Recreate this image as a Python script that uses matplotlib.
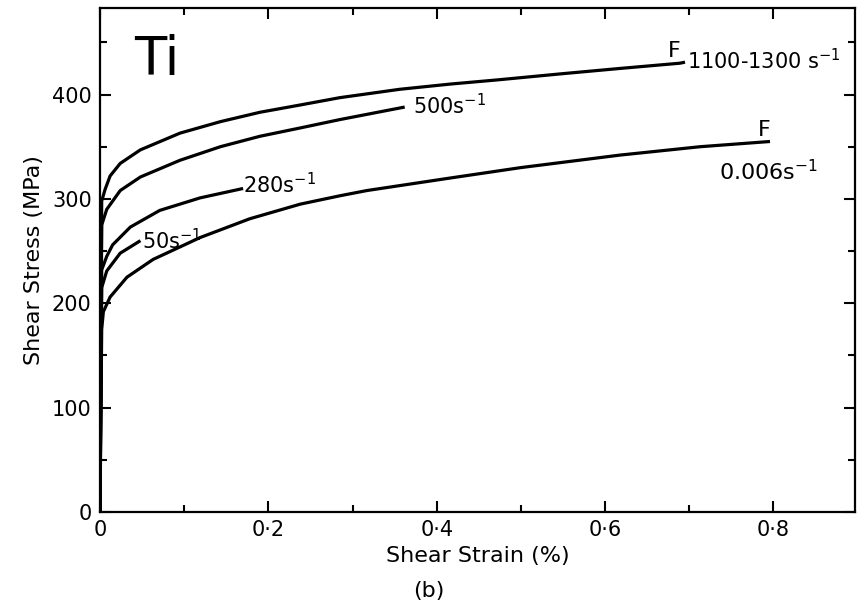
import matplotlib.pyplot as plt
from matplotlib.ticker import MultipleLocator, FixedFormatter, FixedLocator

# curves: shear strain (%) vs shear stress (MPa)
strain_1100 = [0, 0.002, 0.006, 0.012, 0.024, 0.048, 0.095, 0.143, 0.19, 0.238, 0.285,
               0.356, 0.416, 0.472, 0.55, 0.618, 0.689, 0.695]
stress_1100 = [0, 298, 309, 322, 334, 347, 363, 374, 383, 390, 397,
               405, 410, 414, 420, 425, 430, 431]

strain_500 = [0, 0.002, 0.008, 0.024, 0.048, 0.095, 0.143, 0.19, 0.238, 0.285, 0.362]
stress_500 = [0, 275, 290, 308, 321, 337, 350, 360, 368, 376, 388]

strain_280 = [0, 0.002, 0.008, 0.015, 0.036, 0.071, 0.119, 0.17]
stress_280 = [0, 232, 245, 256, 273, 289, 301, 310]

strain_50 = [0, 0.002, 0.008, 0.024, 0.048]
stress_50 = [0, 215, 231, 248, 260]

strain_0006 = [0, 0.002, 0.004, 0.012, 0.032, 0.063, 0.119, 0.178, 0.238, 0.285, 0.317,
               0.416, 0.5, 0.618, 0.713, 0.796]
stress_0006 = [0, 175, 192, 206, 225, 242, 263, 281, 295, 303, 308,
               320, 330, 342, 350, 355]

xticks = [0, 0.2, 0.4, 0.6, 0.8]
xtick_labels = ['0', '0·2', '0·4', '0·6', '0·8']
yticks = [0, 100, 200, 300, 400]

plt.rcParams['font.family'] = 'DejaVu Sans'
plt.rcParams['mathtext.default'] = 'regular'
fig = plt.figure(figsize=(8.57, 6.06), dpi=100)
ax = fig.add_axes([0.1167, 0.155, 0.881, 0.832])

for x, y in [(strain_1100, stress_1100), (strain_500, stress_500),
             (strain_280, stress_280), (strain_50, stress_50),
             (strain_0006, stress_0006)]:
    ax.plot(x, y, color='black', lw=2.3, solid_capstyle='butt', solid_joinstyle='round')

ax.set_xlim(0, 0.897)
ax.set_ylim(0, 483)

ax.xaxis.set_major_locator(FixedLocator(xticks))
ax.xaxis.set_major_formatter(FixedFormatter(xtick_labels))
ax.xaxis.set_minor_locator(MultipleLocator(0.1))
ax.yaxis.set_major_locator(FixedLocator(yticks))
ax.yaxis.set_minor_locator(MultipleLocator(50))
ax.tick_params(which='both', direction='in', top=True, right=True, width=1.5, labelsize=15)
ax.tick_params(which='major', length=8, pad=6)
ax.tick_params(which='minor', length=5)
for s in ax.spines.values():
    s.set_linewidth(1.6)

ax.set_ylabel('Shear Stress (MPa)', fontsize=16, labelpad=6)
ax.set_xlabel('Shear Strain (%)', fontsize=16, labelpad=4)
fig.text(0.5, 0.015, '(b)', ha='center', fontsize=16)

ax.text(0.04, 419, 'Ti', fontsize=38)
ax.text(0.675, 436, 'F', fontsize=16)
ax.text(0.697, 424, '1100-1300 s$^{-1}$', fontsize=15)
ax.text(0.372, 381, '500s$^{-1}$', fontsize=15)
ax.text(0.17, 305, '280s$^{-1}$', fontsize=15)
ax.text(0.05, 252, '50s$^{-1}$', fontsize=15)
ax.text(0.782, 360, 'F', fontsize=16)
ax.text(0.735, 318, '0.006s$^{-1}$', fontsize=16)

fig.savefig('out.png', dpi=100)
